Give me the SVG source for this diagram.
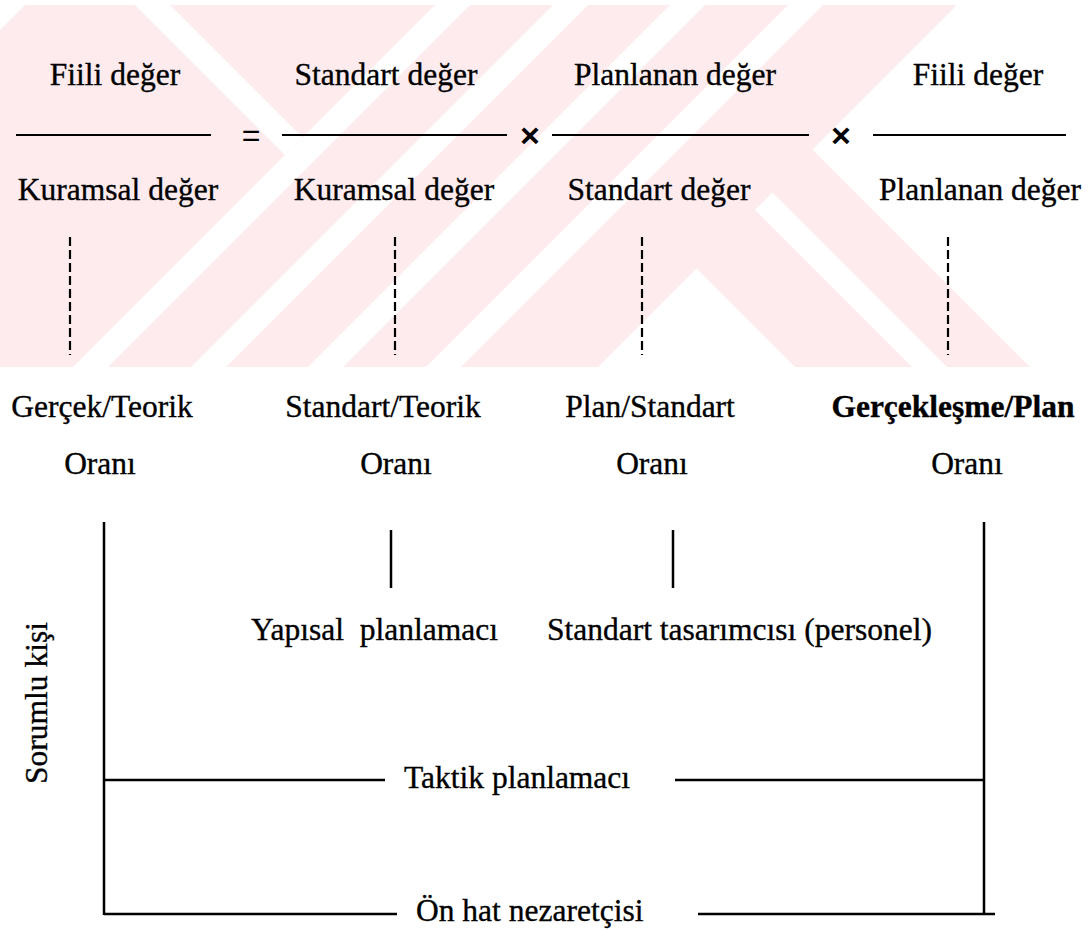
<svg xmlns="http://www.w3.org/2000/svg" width="1091" height="930" viewBox="0 0 1091 930">
<style>
text { font-family: "Liberation Serif", "Times New Roman", serif; font-size: 31.5px; fill: #000; stroke: #000; stroke-width: 0.35; }
.c { text-anchor: middle; }
.b { font-weight: bold; }
.sym { font-family: "Liberation Sans", Arial, sans-serif; font-size: 32px; text-anchor: middle; stroke-width: 0; }
.x { font-weight: bold; font-size: 34px; }
.ln { stroke: #000; stroke-width: 2.5; fill: none; }
.fr { stroke: #000; stroke-width: 2.2; fill: none; }
.dash { stroke: #000; stroke-width: 2.2; stroke-dasharray: 9 4; fill: none; }
.wm { fill: #fdebee; }
.wh { fill: #ffffff; }
</style>
<rect width="1091" height="930" fill="#ffffff"/>
<g id="watermark">
<rect class="wm" x="0" y="5" width="1091" height="362"/>
<polygon class="wh" points="0,5 25,5 0,30"/>
<polygon class="wh" points="135,5 170,5 302.5,137.5 285,155"/>
<polygon class="wh" points="435,5 470,5 108,367 73,367"/>
<polygon class="wh" points="553,5 588,5 226,367 191,367"/>
<polygon class="wh" points="670,5 705,5 343,367 308,367"/>
<polygon class="wh" points="788,5 823,5 461,367 426,367"/>
<polygon class="wh" points="696.5,268.5 795,367 598,367"/>
<polygon class="wh" points="755,210 772.5,192.5 947,367 912,367"/>
<polygon class="wh" points="957,5 1091,5 1091,367 1030,367 812.5,149.5"/>
</g>
<g id="formula">
<g id="frac1">
<text class="c" x="115" y="85">Fiili değer</text>
<line class="fr" x1="16" y1="135" x2="211" y2="135"/>
<text class="c" x="118" y="200">Kuramsal değer</text>
</g>
<text id="eq" class="sym" x="251" y="146">=</text>
<g id="frac2">
<text class="c" x="386" y="85">Standart değer</text>
<line class="fr" x1="282" y1="135" x2="507" y2="135"/>
<text class="c" x="394" y="200">Kuramsal değer</text>
</g>
<text id="times1" class="sym x" x="530" y="147">×</text>
<g id="frac3">
<text class="c" x="675" y="85">Planlanan değer</text>
<line class="fr" x1="552" y1="135" x2="809" y2="135"/>
<text class="c" x="659" y="200">Standart değer</text>
</g>
<text id="times2" class="sym x" x="841" y="147">×</text>
<g id="frac4">
<text class="c" x="978" y="85">Fiili değer</text>
<line class="fr" x1="873" y1="135" x2="1066" y2="135"/>
<text class="c" x="980" y="200">Planlanan değer</text>
</g>
</g>
<g id="ratio1">
<text class="c" x="102" y="417">Gerçek/Teorik</text>
<text class="c" x="100" y="474">Oranı</text>
</g>
<g id="ratio2">
<text class="c" x="383" y="417">Standart/Teorik</text>
<text class="c" x="396" y="474">Oranı</text>
</g>
<g id="ratio3">
<text class="c" x="650" y="417">Plan/Standart</text>
<text class="c" x="652" y="474">Oranı</text>
</g>
<g id="ratio4">
<text class="c b" x="953" y="417">Gerçekleşme/Plan</text>
<text class="c" x="967" y="474">Oranı</text>
</g>
<g id="yapisal">
<text x="251" y="640" xml:space="preserve">Yapısal  planlamacı</text>
</g>
<g id="standart-tasarimcisi">
<text x="547" y="640">Standart tasarımcısı (personel)</text>
</g>
<g id="sorumlu">
<text class="c" transform="translate(47,703) rotate(-90)">Sorumlu kişi</text>
</g>
<g id="taktik">
<text x="404" y="788">Taktik planlamacı</text>
</g>
<g id="onhat">
<text x="416" y="921">Ön hat nezaretçisi</text>
</g>
<g id="connectors">
<line class="dash" x1="70" y1="237" x2="70" y2="355"/>
<line class="dash" x1="395" y1="237" x2="395" y2="355"/>
<line class="dash" x1="642" y1="237" x2="642" y2="355"/>
<line class="dash" x1="948" y1="237" x2="948" y2="355"/>
<line class="ln" x1="104" y1="522" x2="104" y2="915"/>
<line class="ln" x1="984" y1="522" x2="984" y2="915"/>
<line class="ln" x1="391" y1="530" x2="391" y2="588"/>
<line class="ln" x1="673" y1="530" x2="673" y2="588"/>
<line class="ln" x1="104" y1="780" x2="385" y2="780"/>
<line class="ln" x1="675" y1="780" x2="984" y2="780"/>
<line class="ln" x1="104" y1="914" x2="397" y2="914"/>
<line class="ln" x1="698" y1="914" x2="995" y2="914"/>
</g>
</svg>
